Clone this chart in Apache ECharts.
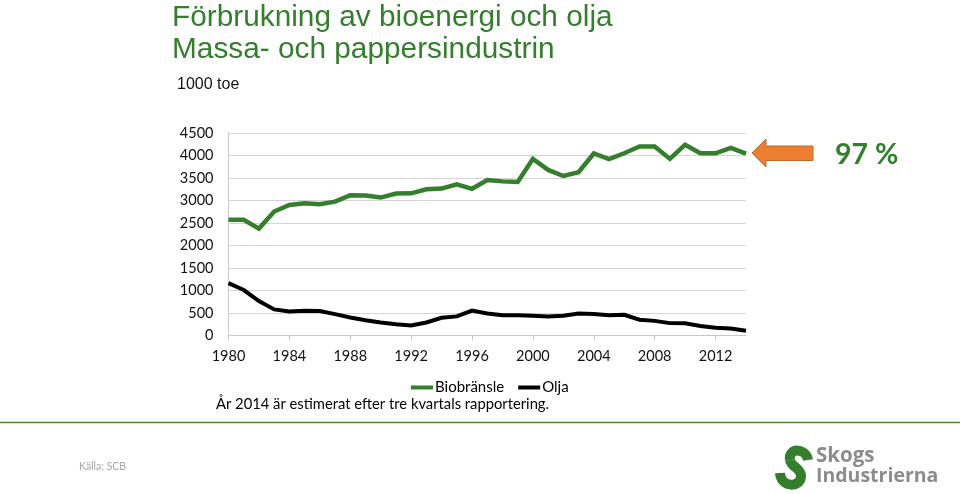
<!DOCTYPE html>
<html>
<head>
<meta charset="utf-8">
<style>
  html, body { margin: 0; padding: 0; background: #fff; }
  #chart { width: 960px; height: 494px; }
</style>
<script src="https://cdn.jsdelivr.net/npm/echarts@6/dist/echarts.min.js"></script>
</head>
<body>
<div id="chart"></div>
<script>
const years = ['1980','1981','1982','1983','1984','1985','1986','1987','1988','1989','1990','1991','1992','1993','1994','1995','1996','1997','1998','1999','2000','2001','2002','2003','2004','2005','2006','2007','2008','2009','2010','2011','2012','2013','2014']
const biobransle = [2570,2570,2376,2755,2900,2940,2918,2975,3118,3110,3065,3155,3160,3250,3265,3360,3260,3455,3425,3410,3925,3680,3545,3630,4045,3920,4050,4200,4200,3925,4240,4050,4050,4170,4040]
const olja = [1165,1010,765,580,535,550,545,475,400,340,290,250,225,290,395,425,555,490,450,450,440,425,440,490,480,450,460,350,325,275,270,210,170,155,105]

const GREEN = '#337f2b'
const LABEL_FONT = 'Lato'

const chart = echarts.init(document.getElementById('chart'))
chart.setOption({
  animation: false,
  backgroundColor: '#fff',
  grid: { left: 228.5, right: 214, top: 133, bottom: 158.5 },
  legend: {
    left: 406,
    top: 375,
    itemWidth: 22,
    itemHeight: 4,
    itemGap: 14,
    icon: 'rect',
    textStyle: { fontFamily: LABEL_FONT, fontSize: 15, color: '#000', padding: [0, 0, 0, -3] },
    data: ['Biobränsle', 'Olja'],
  },
  xAxis: {
    type: 'category',
    boundaryGap: false,
    data: years,
    axisLine: { lineStyle: { color: '#c8c8c8' } },
    axisTick: { interval: 3, length: 5, lineStyle: { color: '#c8c8c8' } },
    axisLabel: { interval: 3, margin: 13, fontFamily: LABEL_FONT, fontSize: 14.5, color: '#111' },
  },
  yAxis: {
    type: 'value',
    min: 0,
    max: 4500,
    interval: 500,
    axisLine: { show: true, lineStyle: { color: '#c8c8c8' } },
    axisTick: { show: false },
    axisLabel: { margin: 15, fontFamily: LABEL_FONT, fontSize: 14.5, color: '#111', formatter: (v) => String(v) },
    splitLine: { lineStyle: { color: '#d4d4d4', width: 1 } },
  },
  series: [
    {
      name: 'Biobränsle',
      type: 'line',
      data: biobransle,
      symbol: 'none',
      itemStyle: { color: GREEN },
      lineStyle: { color: GREEN, width: 4.5, join: 'miter' },
    },
    {
      name: 'Olja',
      type: 'line',
      data: olja,
      symbol: 'none',
      itemStyle: { color: '#000' },
      lineStyle: { color: '#000', width: 4, join: 'miter' },
    },
  ],
  graphic: [
    { type: 'text', left: 172, top: 3, style: { text: 'Förbrukning av bioenergi och olja', font: '29.8px "Liberation Sans"', fill: GREEN } },
    { type: 'text', left: 172, top: 35, style: { text: 'Massa- och pappersindustrin', font: '29.8px "Liberation Sans"', fill: GREEN } },
    { type: 'text', left: 177, top: 77, style: { text: '1000 toe', font: '16px "Liberation Sans"', fill: '#111' } },
    { type: 'text', left: 216, top: 397, style: { text: 'År 2014 är estimerat efter tre kvartals rapportering.', font: '14.75px ' + LABEL_FONT, fill: '#000' } },
    { type: 'text', left: 835, top: 140, style: { text: '97 %', font: 'bold 28.5px ' + LABEL_FONT, fill: GREEN } },
    { type: 'text', left: 79, top: 461, style: { text: 'Källa: SCB', font: '10.5px ' + LABEL_FONT, fill: '#a6a6a6' } },
    // orange arrow pointing at the last value
    {
      type: 'polygon',
      shape: { points: [[752, 153], [766, 139], [766, 146], [813, 146], [813, 160.5], [766, 160.5], [766, 167]] },
      style: { fill: '#ed7d31', stroke: '#c06a2c', lineWidth: 1 },
    },
    // footer rule
    { type: 'line', shape: { x1: 0, y1: 422.5, x2: 960, y2: 422.5 }, style: { stroke: '#4f7f3a', lineWidth: 1.5 } },
    // logo
    {
      type: 'bezierCurve',
      shape: { x1: 808, y1: 460, cpx1: 806, cpy1: 448, cpx2: 788, cpy2: 447, x2: 790, y2: 460 },
      style: { fill: 'none', stroke: GREEN, lineWidth: 10 },
    },
    {
      type: 'bezierCurve',
      shape: { x1: 790, y1: 460, cpx1: 791, cpy1: 467, cpx2: 801, cpy2: 468, x2: 801, y2: 476 },
      style: { fill: 'none', stroke: GREEN, lineWidth: 10 },
    },
    {
      type: 'bezierCurve',
      shape: { x1: 801, y1: 476, cpx1: 801, cpy1: 488, cpx2: 781, cpy2: 488, x2: 780, y2: 473 },
      style: { fill: 'none', stroke: GREEN, lineWidth: 10 },
    },
    { type: 'text', left: 816, top: 446, style: { text: 'Skogs', font: 'bold 20.5px "Open Sans"', fill: '#8a8d8a' } },
    { type: 'text', left: 816, top: 466, style: { text: 'Industrierna', font: 'bold 19.5px "Open Sans"', fill: '#8a8d8a' } },
  ],
})

window.addEventListener('resize', () => chart.resize())
</script>
</body>
</html>
